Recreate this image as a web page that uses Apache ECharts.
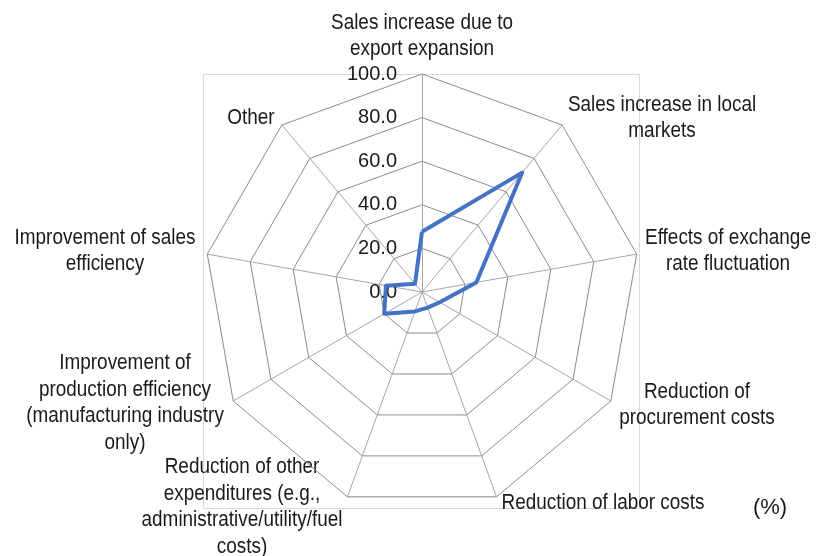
<!DOCTYPE html>
<html>
<head>
<meta charset="utf-8">
<script src="https://cdn.jsdelivr.net/npm/echarts@6/dist/echarts.min.js"></script>
<style>
  html, body { margin: 0; padding: 0; background: #ffffff; }
  #chart { width: 817px; height: 556px; }
</style>
</head>
<body>
<div id="chart"></div>
<script>
// Categories listed clockwise starting from the top axis
const categories = [
  'Sales increase due to\nexport expansion',
  'Sales increase in local\nmarkets',
  'Effects of exchange\nrate fluctuation',
  'Reduction of\nprocurement costs',
  'Reduction of labor costs',
  'Reduction of other\nexpenditures (e.g.,\nadministrative/utility/fuel\ncosts)',
  'Improvement of\nproduction efficiency\n(manufacturing industry\nonly)',
  'Improvement of sales\nefficiency',
  'Other'
];
const values = [27.6, 71.5, 25.3, 9.4, 7.6, 9.5, 20.0, 16.8, 5.0];
const scaleMax = 100;
const scaleStep = 20;
const unitLabel = '(%)';

// Where each category caption sits (block centre)
const captionAnchors = [
  [422, 36], [662, 118], [728, 251], [697, 405], [603, 503],
  [242, 507], [125, 403], [105, 251], [251, 118]
];

const FONT = "'Liberation Sans', Arial, sans-serif";
// Captions are drawn a little condensed, like a narrow sans face
const CONDENSE = 0.86;

// ECharts lays radar axes out counter-clockwise, so walk the list backwards after the first
const order = [0].concat(categories.map((_, i) => i).slice(1).reverse());

const indicator = order.map((i, k) => {
  const item = { name: categories[i], max: scaleMax, min: 0 };
  if (k === 0) item.axisLabel = { show: true };
  return item;
});

function caption(text, x, y, condense) {
  return {
    type: 'text',
    x: x,
    y: y,
    scaleX: condense,
    silent: true,
    style: {
      text: text,
      fill: '#1a1a1a',
      font: '22px ' + FONT,
      align: 'center',
      verticalAlign: 'middle',
      lineHeight: 26.5
    }
  };
}

const captions = categories.map((c, i) => caption(c, captionAnchors[i][0], captionAnchors[i][1], CONDENSE));

const chart = echarts.init(document.getElementById('chart'), null, { renderer: 'canvas' });
chart.setOption({
  backgroundColor: '#ffffff',
  animation: false,
  radar: {
    center: [422, 292],
    radius: 218,
    startAngle: 90,
    splitNumber: scaleMax / scaleStep,
    shape: 'polygon',
    axisName: { show: false },
    axisLine: { lineStyle: { color: '#a6a6a6', width: 1 } },
    splitLine: { lineStyle: { color: '#8c8c8c', width: 1 } },
    splitArea: { show: false },
    axisTick: { show: false },
    axisLabel: {
      show: false,
      color: '#1a1a1a',
      fontSize: 20,
      fontFamily: FONT,
      margin: 25,
      formatter: v => Number(v).toFixed(1)
    },
    indicator: indicator
  },
  series: [{
    type: 'radar',
    symbol: 'none',
    lineStyle: { color: '#4472c4', width: 4 },
    data: [{ value: order.map(i => values[i]) }]
  }],
  graphic: [
    {
      type: 'rect',
      silent: true,
      z: -1,
      shape: { x: 203.5, y: 74.5, width: 436, height: 434 },
      style: { fill: null, stroke: '#d9d9d9', lineWidth: 1 }
    },
    ...captions,
    caption(unitLabel, 770, 508, 1)
  ]
});
</script>
</body>
</html>
